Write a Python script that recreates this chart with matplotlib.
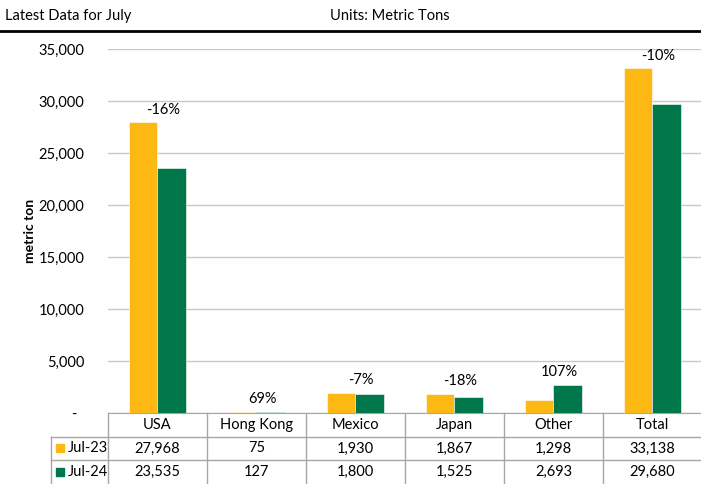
import matplotlib.pyplot as plt
from matplotlib.patches import Rectangle

plt.rcParams['font.family'] = ['Lato', 'DejaVu Sans']

countries = ['USA', 'Hong Kong', 'Mexico', 'Japan', 'Other', 'Total']
jul23 = [27968, 75, 1930, 1867, 1298, 33138]
jul24 = [23535, 127, 1800, 1525, 2693, 29680]
series = ['Jul-23', 'Jul-24']
yticks = [0, 5000, 10000, 15000, 20000, 25000, 30000, 35000]

gold = '#FDB813'
green = '#00774A'
grid = '#C8C8C8'
border = '#A6A6A6'

W, H = 701, 484
fig = plt.figure(figsize=(W / 100, H / 100), dpi=100)

def box(x0, y0, x1, y1):
    # pixel box (top-left origin) -> figure fraction rect
    return [x0 / W, 1 - y1 / H, (x1 - x0) / W, (y1 - y0) / H]

# header strip
fig.text(5 / W, 1 - 16 / H, 'Latest Data for July', fontsize=10.5, va='center')
fig.text(330 / W, 1 - 16 / H, 'Units: Metric Tons', fontsize=10.5, va='center')
fig.add_artist(plt.Line2D([0, 1], [1 - 31 / H, 1 - 31 / H], color='black', lw=2))

ax = fig.add_axes(box(108, 49, 702, 413))
x = list(range(len(countries)))
bw = 0.287
ax.bar([i - bw / 2 for i in x], jul23, bw, color=gold, edgecolor='white', lw=0.4, zorder=3)
ax.bar([i + bw / 2 for i in x], jul24, bw, color=green, edgecolor='white', lw=0.4, zorder=3)

# year-over-year change above each group
for i in x:
    pct = round((jul24[i] / jul23[i] - 1) * 100)
    ax.annotate(f'{pct}%', (i, max(jul23[i], jul24[i])), xytext=(4, 4),
                textcoords='offset points', ha='center', va='bottom', fontsize=10.5)

ax.set_xlim(-0.5, len(countries) - 0.5)
ax.set_ylim(0, 35000)
ax.set_yticks(yticks)
ax.set_yticklabels(['-  '] + [f'{v:,}' for v in yticks[1:]], fontsize=10.5)
ax.tick_params(axis='y', length=0, pad=17)
ax.set_xticks([])
ax.yaxis.grid(True, color=grid, lw=1, zorder=0)
for s in ['top', 'right', 'left']:
    ax.spines[s].set_visible(False)
ax.spines['bottom'].set_color(border)
ax.set_ylabel('metric ton', fontsize=10, fontweight='bold', labelpad=2)

# data table under the bars
tx = fig.add_axes(box(51, 413, 702, 484))
left = -0.5 - 57 / 99.0
tx.set_xlim(left, len(countries) - 0.5)
tx.set_ylim(3, 0)
tx.axis('off')
kw = dict(color=border, lw=1, clip_on=False)
for i in range(len(countries) + 1):
    tx.plot([i - 0.5, i - 0.5], [0, 3], **kw)
tx.plot([left, left], [1, 3], **kw)
tx.plot([left, len(countries) - 0.5], [1, 1], **kw)
tx.plot([left, len(countries) - 0.5], [2, 2], **kw)
for i, c in enumerate(countries):
    tx.text(i, 0.5, c, ha='center', va='center', fontsize=10.5)
    tx.text(i, 1.5, f'{jul23[i]:,}', ha='center', va='center', fontsize=10.5)
    tx.text(i, 2.5, f'{jul24[i]:,}', ha='center', va='center', fontsize=10.5)
for r, (name, col) in enumerate(zip(series, [gold, green])):
    tx.add_patch(Rectangle((left + 0.05, 1.33 + r), 0.08, 0.33, color=col, clip_on=False))
    tx.text(left + 0.17, 1.5 + r, name, va='center', fontsize=10.5)

fig.savefig('out.png', dpi=100)
